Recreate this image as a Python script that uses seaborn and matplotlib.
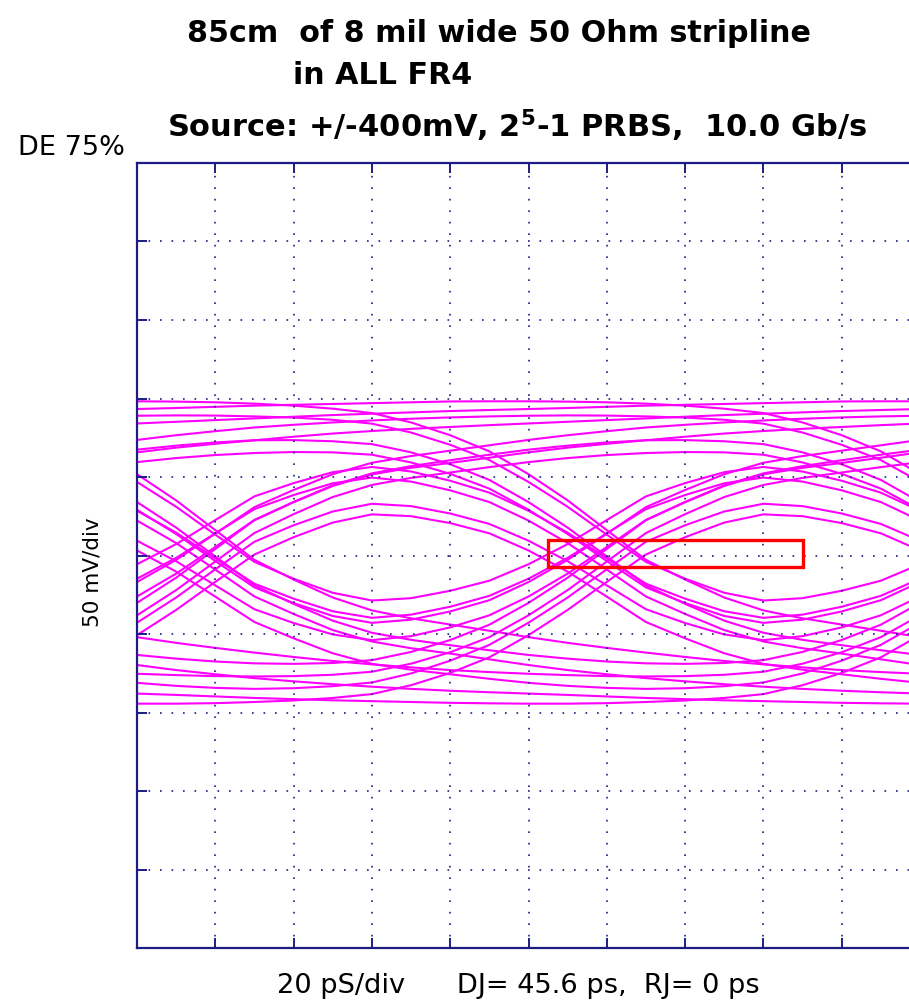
import numpy as np
import pandas as pd
import seaborn as sns
import matplotlib.pyplot as plt
from matplotlib.patches import Rectangle

# PRBS 2^5-1 pattern (one period)
bits = [1, 1, 1, 1, 1, 0, 0, 0, 1, 1, 0, 1, 1, 1, 0, 1,
        0, 1, 0, 0, 0, 0, 1, 0, 0, 1, 0, 1, 1, 0, 0]

# channel step response (% of full swing), 10 ps steps
step_pct = [0, 0.1, 0.3, 0.6, 1.0, 1.6, 2.4, 3.5, 5.0, 8.0,
            12, 17, 24, 32, 41, 50, 56, 61.5, 65.5, 68,
            70, 72, 74, 75.8, 77.4, 78.9, 80.2, 81.4, 82.4, 83.3,
            84.1, 84.8, 85.5, 86.2, 86.9, 87.6, 88.3, 89.0, 89.6, 90.2,
            90.8, 91.3, 91.8, 92.3, 92.8, 93.3, 93.7, 94.1, 94.5, 94.9,
            95.3, 95.6, 95.9, 96.2, 96.5, 96.8, 97.0, 97.2, 97.4, 97.6,
            97.8, 98.0, 98.2, 98.4, 98.55, 98.7, 98.85, 99.0, 99.15, 99.3,
            99.45, 99.6, 99.7, 99.8, 99.9, 100]

swing_mv = 107           # settled level, +/- mV
step_ps = 10
ui_ps = 100
window_ps = 200
trigger_ps = 120         # sweep start after the bit's step begins

# eye mask box (ps, mV)
mask_t = [105, 170]
mask_v = [-7.5, 10]

# single-bit pulse = step minus step delayed by one UI
spb = ui_ps // step_ps
s = np.array(step_pct + [100] * spb) / 100 * swing_mv
pulse = s - np.concatenate([np.zeros(spb), s[:-spb]])

n = len(bits) * spb
wave = np.zeros(n)
for k, b in enumerate(bits):
    sgn = 1 if b else -1
    for j, p in enumerate(pulse):
        wave[(k * spb + j) % n] += sgn * p

# slice into 2-UI sweeps, one per bit
npts = window_ps // step_ps + 1
rows = []
for k in range(len(bits)):
    idx = (k * spb + trigger_ps // step_ps + np.arange(npts)) % n
    for i, v in zip(range(npts), wave[idx]):
        rows.append({'trace': k, 't': i * step_ps, 'v': v})
df = pd.DataFrame(rows)

navy = '#1c1c84'
fig = plt.figure(figsize=(9.09, 10), dpi=100)
ax = fig.add_axes([137 / 909, 0.052, 783 / 909, 0.785])

sns.lineplot(data=df, x='t', y='v', units='trace', estimator=None,
             color='#ff00ff', linewidth=1.5, legend=False, ax=ax)

ax.add_patch(Rectangle((mask_t[0], mask_v[0]), mask_t[1] - mask_t[0],
                       mask_v[1] - mask_v[0], fill=False,
                       edgecolor='#ff0000', linewidth=2.4, zorder=4))

ax.set_xlim(0, 200)
ax.set_ylim(-250, 250)
ax.set_xticks(np.arange(0, 201, 20))
ax.set_yticks(np.arange(-250, 251, 50))
ax.set_xticklabels([])
ax.set_yticklabels([])
ax.set_xlabel('')
ax.set_ylabel('')
ax.set_axisbelow(False)
ax.grid(True, color=navy, linestyle=(0, (1, 5.9)), linewidth=1.2)
ax.tick_params(direction='in', length=7, width=1.4, color=navy,
               top=True, right=True)
for sp in ax.spines.values():
    sp.set_color(navy)
    sp.set_linewidth(1.6)

# texts
fig.text(499 / 909, 1 - 42 / 1000, '85cm  of 8 mil wide 50 Ohm stripline',
         ha='center', va='baseline', fontsize=21.7, fontweight='bold')
fig.text(293 / 909, 1 - 84 / 1000, 'in ALL FR4',
         ha='left', va='baseline', fontsize=21.7, fontweight='bold')
fig.text(517 / 909, 1 - 137 / 1000,
         r'Source: +/-400mV, 2$^\mathbf{5}$-1 PRBS,  10.0 Gb/s',
         ha='center', va='baseline', fontsize=22, fontweight='bold')
fig.text(18 / 909, 1 - 155 / 1000, 'DE 75%', ha='left', va='baseline',
         fontsize=19.5)
fig.text(92 / 909, 1 - 572 / 1000, '50 mV/div', rotation=90,
         ha='center', va='center', fontsize=15.5)
fig.text(518 / 909, 1 - 993 / 1000,
         '20 pS/div      DJ= 45.6 ps,  RJ= 0 ps',
         ha='center', va='baseline', fontsize=19.6)

fig.savefig('out.png', dpi=100)
